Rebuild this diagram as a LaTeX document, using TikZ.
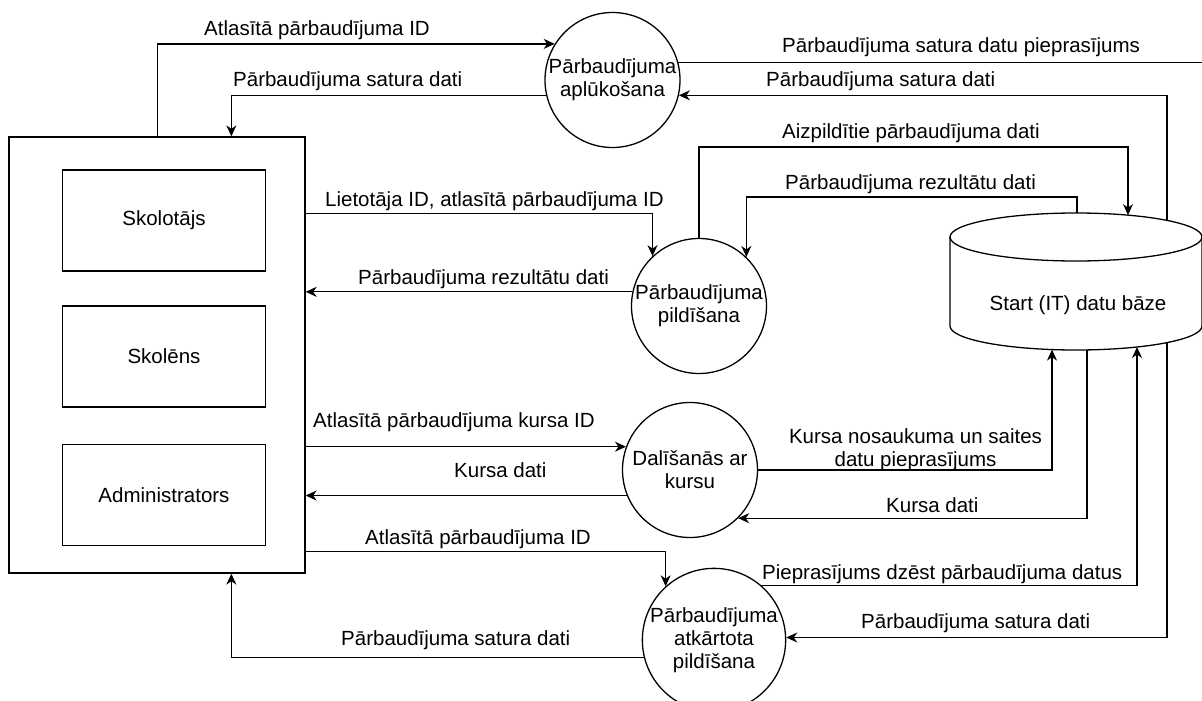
\documentclass[tikz,border=0pt]{standalone}
\usepackage{fontspec}
\setmainfont{Liberation Sans}
\usetikzlibrary{arrows.meta,calc}
\newcommand\dfont{\fontsize{20.5}{23}\selectfont}
\begin{document}
\begin{tikzpicture}[x=1pt,y=-1pt,
  ln/.style={line width=1.3pt},
  arr/.style={line width=1.3pt,-{Stealth[length=11pt,width=10pt,inset=3.5pt]}},
  proc/.style={circle,draw,line width=1.3pt,minimum size=135pt,inner sep=0pt,align=center,font=\dfont},
  ent/.style={rectangle,draw,line width=1.3pt,minimum width=203pt,minimum height=101pt,font=\dfont},
  lbl/.style={anchor=base west,inner sep=0pt,font=\dfont}]
\useasboundingbox (0,0) rectangle (1202,701);
\fill[white] (0,0) rectangle (1202,701);
\clip (0,0) rectangle (1202,701);

% external entity
\node[draw,line width=1.3pt,minimum width=296pt,minimum height=436pt,inner sep=0pt] (sys) at (157,355) {};
\node[ent] (t) at (164,220.5) {Skolotājs};
\node[ent] (s) at (164,356.5) {Skolēns};
\node[ent] (a) at (164,495) {Administrators};

% processes
\node[proc] (ap) at (612.5,80) {Pārbaudījuma\\aplūkošana};
\node[proc] (pi) at (699,306) {Pārbaudījuma\\pildīšana};
\node[proc] (da) at (690,470) {Dalīšanās ar\\kursu};
\node[proc] (at) at (714,640) {Pārbaudījuma\\atkārtota\\pildīšana};

% data store attachment points
\coordinate (dbE) at (1202,237);
\coordinate (dbR) at (1230,237);
\coordinate (dbT1) at (1077,213);
\coordinate (dbT2) at (1128,215.1);
\coordinate (dbT3) at (1167,220.4);
\coordinate (dbB1) at (1052,349.6);
\coordinate (dbB2) at (1087,349.9);
\coordinate (dbB3) at (1137,347);
\coordinate (dbB4) at (1167,342.6);

% connectors
\draw[arr] ([xshift=149pt]sys.north west) |- (ap.148.8);
\draw[arr] (ap.193.7) -| ([xshift=223pt]sys.north west);
\draw[ln] (ap.15.5) -| (dbR);
\draw[arr] (dbR) -- (dbE);
\draw[arr] (dbT3) |- (ap.347.2);
\draw[arr] (pi.north) -- ++(0,-91) -| (dbT2);
\draw[arr] (dbT1) -- ++(0,-16) -| (pi.46.3);
\draw[arr] ([yshift=-77pt]sys.north east) -| (pi.133.7);
\draw[arr] (pi.168.1) -- (sys.east |- pi.168.1);
\draw[arr] (sys.east |- da.160.1) -- (da.160.1);
\draw[arr] (da.202.7) -- (sys.east |- da.202.7);
\draw[arr] (da.east) -| (dbB1);
\draw[arr] (dbB2) |- (da.315.9);
\draw[arr] ([yshift=22pt]sys.south east) -| (at.132.6);
\draw[arr] (at.194.5) -| ([xshift=223pt]sys.south west);
\draw[arr] (at.49.9) -| (dbB3);
\draw[arr] (dbB4) |- (at.2);

% data store (cylinder)
\filldraw[fill=white,line width=1.3pt] (950,237) -- (950,326)
  arc[start angle=180,end angle=0,x radius=126,y radius=24] -- (1202,237)
  arc[start angle=0,end angle=-180,x radius=126,y radius=24] -- cycle;
\draw[ln] (950,237) arc[start angle=180,end angle=0,x radius=126,y radius=24];
\node[font=\dfont,inner sep=0pt] (db) at (1078,305) {Start (IT) datu bāze};

% labels
\node[lbl] (l1) at (204,35.5) {Atlasītā pārbaudījuma ID};
\node[lbl] (l2) at (233,86) {Pārbaudījuma satura dati};
\node[lbl] (l3) at (782,53) {Pārbaudījuma satura datu pieprasījums};
\node[lbl] (l4) at (766,86) {Pārbaudījuma satura dati};
\node[lbl] (l5) at (782,138) {Aizpildītie pārbaudījuma dati};
\node[lbl] (l6) at (785,189) {Pārbaudījuma rezultātu dati};
\node[lbl] (l7) at (325,206) {Lietotāja ID, atlasītā pārbaudījuma ID};
\node[lbl] (l8) at (358,284) {Pārbaudījuma rezultātu dati};
\node[lbl] (l9) at (313,427) {Atlasītā pārbaudījuma kursa ID};
\node[lbl] (l10) at (454,477) {Kursa dati};
\node[font=\dfont,inner sep=0pt,align=center] (l11) at (915.5,449.2) {Kursa nosaukuma un saites\\datu pieprasījums};
\node[lbl] (l12) at (886,512) {Kursa dati};
\node[lbl] (l13) at (365,544) {Atlasītā pārbaudījuma ID};
\node[lbl] (l14) at (762,579) {Pieprasījums dzēst pārbaudījuma datus};
\node[lbl] (l15) at (861,628) {Pārbaudījuma satura dati};
\node[lbl] (l16) at (341,645) {Pārbaudījuma satura dati};
\end{tikzpicture}
\end{document}
